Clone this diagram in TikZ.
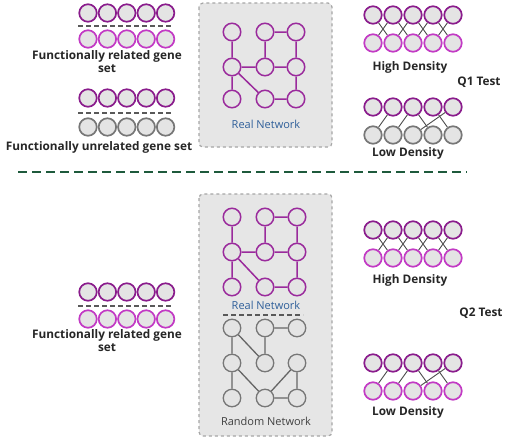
\documentclass[tikz,border=0pt]{standalone}
\usepackage{fontspec}
\setmainfont{Open Sans}
\usepackage{tikz}
\usetikzlibrary{positioning,calc}
\definecolor{darkpurple}{HTML}{8A1C8C}
\definecolor{lightpurple}{HTML}{C23AC4}
\definecolor{netpurple}{HTML}{9A2A9C}
\definecolor{genegray}{HTML}{777777}
\definecolor{genefill}{HTML}{E4E4E4}
\definecolor{boxfill}{HTML}{E6E6E6}
\definecolor{boxline}{HTML}{A6A6A6}
\definecolor{netblue}{HTML}{2F5F9A}
\definecolor{sepgreen}{HTML}{1E5A3C}
\tikzstyle{gene} = [circle, fill=genefill, line width=1.7pt, minimum size=17.5pt, inner sep=0pt]
\tikzstyle{darkgene} = [gene, draw=darkpurple]
\tikzstyle{lightgene} = [gene, draw=lightpurple]
\tikzstyle{graygene} = [gene, draw=genegray]
\tikzstyle{netnode} = [circle, fill=genefill, draw=netpurple, line width=1.5pt, minimum size=17.5pt, inner sep=0pt]
\tikzstyle{randnode} = [circle, fill=genefill, draw=genegray, line width=1.3pt, minimum size=17.5pt, inner sep=0pt]
\tikzstyle{link} = [draw=black!70, line width=0.9pt]
\tikzstyle{genetext} = [font=\bfseries\fontsize{11.8}{13}\selectfont, text=black!85, align=center]
\tikzstyle{gap} = [draw=black!65, line width=1.3pt, dash pattern=on 5pt off 3pt]

\begin{document}
\begin{tikzpicture}[x=1pt, y=-1pt]
    \useasboundingbox (0,0) rectangle (512,440);

    % Left gene sets
    \foreach \i in {1,...,5} {
        \node[darkgene] (ra\i) at ({88+19.4*(\i-1)},13) {};
        \node[lightgene] (rb\i) at ({88+19.4*(\i-1)},39) {};
        \node[darkgene] (ua\i) at ({88+19.4*(\i-1)},98) {};
        \node[graygene] (ub\i) at ({88+19.4*(\i-1)},127) {};
        \node[darkgene] (sa\i) at ({88+19.4*(\i-1)},292) {};
        \node[lightgene] (sb\i) at ({88+19.4*(\i-1)},319) {};
    }
    \draw[gap] (78,26) -- (172,26);
    \draw[gap] (78,113) -- (172,113);
    \draw[gap] (78,306) -- (172,306);
    \node[genetext] (rtext) at (107,61.5) {Functionally related gene\\set};
    \node[genetext] (utext) at (99,147) {Functionally unrelated gene set};
    \node[genetext] (stext) at (107,340.5) {Functionally related gene\\set};

    % Network boxes
    \draw[boxline, fill=boxfill, dashed, line width=1.2pt, rounded corners=4pt] (199,3) rectangle (332,147);
    \draw[boxline, fill=boxfill, dashed, line width=1.2pt, rounded corners=4pt] (199,194) rectangle (332,436);

    % Real network (Q1)
    \foreach \r/\y in {1/32, 2/67, 3/99}
        \foreach \c/\x in {1/232, 2/265, 3/296}
            \node[netnode] (p\r\c) at (\x,\y) {};
    \draw[netpurple, line width=1.5pt] (p11) -- (p21) (p21) -- (p31) (p21) -- (p22) (p22) -- (p23)
        (p12) -- (p13) (p12) -- (p22) (p13) -- (p23) (p23) -- (p33) (p21) -- (p32) (p32) -- (p33);
    \node[text=netblue, font=\fontsize{11}{12}\selectfont] (ptext) at (266,124) {Real Network};

    % Real network (Q2)
    \foreach \r/\y in {1/217, 2/252, 3/287}
        \foreach \c/\x in {1/232, 2/265, 3/297}
            \node[netnode] (q\r\c) at (\x,\y) {};
    \draw[netpurple, line width=1.5pt] (q11) -- (q21) (q21) -- (q31) (q21) -- (q22) (q22) -- (q23)
        (q12) -- (q13) (q12) -- (q22) (q13) -- (q23) (q23) -- (q33) (q21) -- (q32) (q32) -- (q33);
    \node[text=netblue, font=\fontsize{11}{12}\selectfont] (qtext) at (266,305) {Real Network};
    \draw[gap] (223,315) -- (303,315);

    % Random network
    \foreach \r/\y in {1/328, 2/363, 3/398}
        \foreach \c/\x in {1/232, 2/265, 3/297}
            \node[randnode] (g\r\c) at (\x,\y) {};
    \draw[genegray!85!black, line width=1.3pt] (g11) -- (g21) (g11) -- (g22) (g12) -- (g22) (g12) -- (g13)
        (g21) -- (g31) (g21) -- (g32) (g32) -- (g23) (g23) -- (g33) (g32) -- (g33);
    \node[text=black!75, font=\fontsize{11}{12}\selectfont] (gtext) at (266,421) {Random Network};

    % Separator
    \draw[sepgreen, line width=1.8pt, dash pattern=on 9pt off 5pt] (18,172) -- (467,172);

    % Q1 test
    \foreach \i in {1,...,5} {
        \node[darkgene] (ha\i) at ({373+20*(\i-1)},15) {};
        \node[lightgene] (hb\i) at ({373+20*(\i-1)},43) {};
        \node[darkgene] (la\i) at ({373+20*(\i-1)},107) {};
        \node[graygene] (lb\i) at ({373+20*(\i-1)},135) {};
    }
    \foreach \i/\j in {1/2, 2/3, 3/4, 4/5} {
        \draw[link] (ha\i) -- (hb\j);
        \draw[link] (ha\j) -- (hb\i);
    }
    \draw[link] (la2) -- (lb1);
    \draw[link] (la3) -- (lb2);
    \draw[link] (la3) -- (lb4);
    \draw[link] (la4) -- (lb5);
    \draw[link] (la5) -- (lb3);
    \node[genetext] (htext) at (410,67) {High Density};
    \node[genetext] (ltext) at (408,153) {Low Density};
    \node[genetext] (qone) at (479,82) {Q1 Test};

    % Q2 test
    \foreach \i in {1,...,5} {
        \node[darkgene] (hc\i) at ({373+20*(\i-1)},230) {};
        \node[lightgene] (hd\i) at ({373+20*(\i-1)},258) {};
        \node[darkgene] (lc\i) at ({373+20*(\i-1)},363) {};
        \node[lightgene] (ld\i) at ({373+20*(\i-1)},391) {};
    }
    \foreach \i/\j in {1/2, 2/3, 3/4, 4/5} {
        \draw[link] (hc\i) -- (hd\j);
        \draw[link] (hc\j) -- (hd\i);
    }
    \draw[link] (lc2) -- (ld1);
    \draw[link] (lc3) -- (ld2);
    \draw[link] (lc3) -- (ld4);
    \draw[link] (lc4) -- (ld5);
    \draw[link] (lc5) -- (ld3);
    \node[genetext] (hqtext) at (410,280) {High Density};
    \node[genetext] (lqtext) at (408,412) {Low Density};
    \node[genetext] (qtwo) at (481,313) {Q2 Test};
\end{tikzpicture}
\end{document}
